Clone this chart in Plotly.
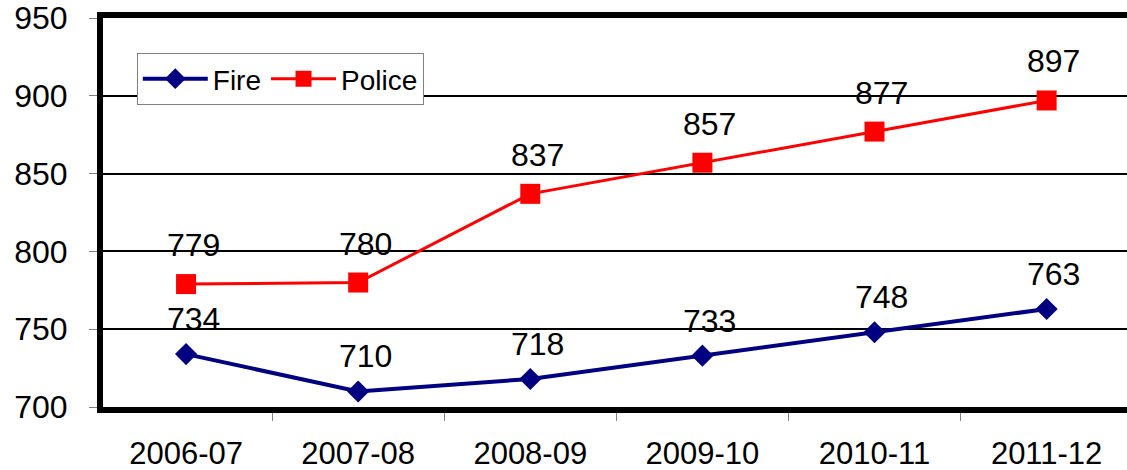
import plotly.graph_objects as go

years = ["2006-07", "2007-08", "2008-09", "2009-10", "2010-11", "2011-12"]
fire = [734, 710, 718, 733, 748, 763]
police = [779, 780, 837, 857, 877, 897]
y_ticks = [700, 750, 800, 850, 900, 950]

FONT = "Arial, Liberation Sans, sans-serif"
NAVY = "#000080"
RED = "#ff0000"

fig = go.Figure()
fig.add_trace(go.Scatter(
    x=years, y=fire, name="Fire", mode="lines+markers",
    line=dict(color=NAVY, width=4),
    marker=dict(symbol="diamond", size=17, color=NAVY),
))
fig.add_trace(go.Scatter(
    x=years, y=police, name="Police", mode="lines+markers",
    line=dict(color=RED, width=3),
    marker=dict(symbol="square", size=20, color=RED),
))

# value labels above each point
for xs, ys, shift in ((years, fire, 35), (years, police, 39)):
    for xv, yv in zip(xs, ys):
        fig.add_annotation(
            x=xv, y=yv, text=str(yv), showarrow=False,
            xshift=7, yshift=shift,
            font=dict(family=FONT, size=32, color="black"),
        )

fig.update_layout(
    width=1127, height=470,
    margin=dict(l=103, r=0, t=18, b=63),
    paper_bgcolor="white", plot_bgcolor="white",
    font=dict(family=FONT, color="black"),
    showlegend=True,
    legend=dict(
        orientation="h", x=0.033, y=0.91, xanchor="left", yanchor="top",
        bgcolor="white", bordercolor="#808080", borderwidth=1,
        font=dict(family=FONT, size=28, color="black"),
        itemwidth=65, tracegroupgap=0,
    ),
)
fig.update_xaxes(
    type="category", range=[-0.4826, 5.467], automargin=False,
    showline=True, linecolor="black", linewidth=6, mirror=True,
    ticks="outside", ticklen=8, tickcolor="#808080", tickwidth=1,
    tickson="boundaries", showgrid=False,
    tickfont=dict(family=FONT, size=31, color="black"),
    ticklabelstandoff=14,
)
fig.update_yaxes(
    range=[700, 950], tickvals=y_ticks, automargin=False,
    showline=True, linecolor="black", linewidth=6, mirror=False,
    ticks="outside", ticklen=8, tickcolor="#808080", tickwidth=1,
    showgrid=True, gridcolor="black", gridwidth=2,
    zeroline=False,
    tickfont=dict(family=FONT, size=32, color="black"),
    ticklabelstandoff=15,
)

fig.write_html("out.html")
